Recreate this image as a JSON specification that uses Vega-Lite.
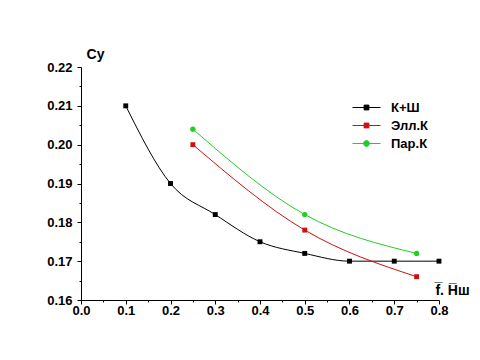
{
  "$schema": "https://vega.github.io/schema/vega-lite/v6.json",
  "width": 358,
  "height": 233,
  "autosize": {"type": "none"},
  "padding": {"left": 81, "top": 67, "right": 41, "bottom": 60},
  "background": "white",
  "config": {
    "view": {"stroke": null},
    "font": "Liberation Sans",
    "axis": {
      "grid": false,
      "domainColor": "black",
      "tickColor": "black",
      "labelColor": "black",
      "labelFont": "Liberation Sans",
      "labelFontWeight": "bold",
      "labelFontSize": 13,
      "labelOverlap": false,
      "labelFlush": false,
      "titleFont": "Liberation Sans",
      "titleFontWeight": "bold",
      "titleFontSize": 14,
      "titleColor": "black"
    }
  },
  "data": {
    "values": [
      {"s": "К+Ш", "x": 0.1, "y": 0.210},
      {"s": "К+Ш", "x": 0.2, "y": 0.190},
      {"s": "К+Ш", "x": 0.3, "y": 0.182},
      {"s": "К+Ш", "x": 0.4, "y": 0.175},
      {"s": "К+Ш", "x": 0.5, "y": 0.172},
      {"s": "К+Ш", "x": 0.6, "y": 0.170},
      {"s": "К+Ш", "x": 0.7, "y": 0.170},
      {"s": "К+Ш", "x": 0.8, "y": 0.170},
      {"s": "Элл.К", "x": 0.25, "y": 0.200},
      {"s": "Элл.К", "x": 0.5, "y": 0.178},
      {"s": "Элл.К", "x": 0.75, "y": 0.166},
      {"s": "Пар.К", "x": 0.25, "y": 0.204},
      {"s": "Пар.К", "x": 0.5, "y": 0.182},
      {"s": "Пар.К", "x": 0.75, "y": 0.172}
    ]
  },
  "encoding": {
    "x": {
      "field": "x",
      "type": "quantitative",
      "scale": {"domain": [0, 0.8], "nice": false, "zero": false},
      "axis": {
        "values": [0, 0.05, 0.1, 0.15, 0.2, 0.25, 0.3, 0.35, 0.4, 0.45, 0.5, 0.55, 0.6, 0.65, 0.7, 0.75, 0.8],
        "labelExpr": "round(datum.value*20) % 2 == 0 ? format(datum.value, '.1f') : ''",
        "tickSize": {"condition": {"test": "round(datum.value*20) % 2 == 0", "value": 4}, "value": 2},
        "labelPadding": 0,
        "title": "f̅. H̅ш",
        "titleAngle": 0,
        "titleX": 371,
        "titleY": -3,
        "titleAlign": "center",
        "titleBaseline": "bottom"
      }
    },
    "y": {
      "field": "y",
      "type": "quantitative",
      "scale": {"domain": [0.16, 0.22], "nice": false, "zero": false},
      "axis": {
        "values": [0.16, 0.165, 0.17, 0.175, 0.18, 0.185, 0.19, 0.195, 0.2, 0.205, 0.21, 0.215, 0.22],
        "labelExpr": "round(datum.value*200) % 2 == 0 ? format(datum.value, '.2f') : ''",
        "tickSize": {"condition": {"test": "round(datum.value*200) % 2 == 0", "value": 4}, "value": 2},
        "labelPadding": 5,
        "title": "Cy",
        "titleAngle": 0,
        "titleX": 14,
        "titleY": -13,
        "titleAlign": "center",
        "titleBaseline": "middle"
      }
    }
  },
  "layer": [
    {
      "mark": {"type": "line", "interpolate": "monotone", "strokeWidth": 1},
      "encoding": {
        "color": {
          "field": "s",
          "type": "nominal",
          "sort": ["К+Ш", "Элл.К", "Пар.К"],
          "scale": {"domain": ["К+Ш", "Элл.К", "Пар.К"], "range": ["#000000", "#d01010", "#20d020"]},
          "legend": {
            "title": null,
            "orient": "none",
            "legendX": 277,
            "legendY": 32,
            "padding": 0,
            "labelFont": "Liberation Sans",
            "labelFontWeight": "bold",
            "labelFontSize": 13,
            "labelColor": "black",
            "symbolSize": 256,
            "symbolStrokeWidth": 1,
            "rowPadding": 2,
            "labelOffset": 16,
            "encode": {
              "symbols": {
                "update": {
                  "shape": {"signal": "datum.value === 'Пар.К' ? 'M-1.75,0H1.75M0.36,0A0.36,0.36 0 1,1 -0.36,0A0.36,0.36 0 1,1 0.36,0Z' : 'M-1.75,0H1.75M-0.3,-0.3H0.3V0.3H-0.3Z'"},
                  "fill": {"scale": "color", "field": "value"},
                  "stroke": {"scale": "color", "field": "value"},
                  "opacity": {"value": 1},
                  "fillOpacity": {"value": 1}
                }
              }
            }
          }
        }
      }
    },
    {
      "transform": [{"filter": "datum.s !== 'Пар.К'"}],
      "mark": {"type": "point", "filled": true, "opacity": 1, "size": 24, "shape": "square"},
      "encoding": {
        "color": {"field": "s", "type": "nominal", "legend": null}
      }
    },
    {
      "transform": [{"filter": "datum.s === 'Пар.К'"}],
      "mark": {"type": "point", "filled": true, "opacity": 1, "size": 28, "shape": "circle"},
      "encoding": {
        "color": {"field": "s", "type": "nominal", "legend": null}
      }
    }
  ]
}
